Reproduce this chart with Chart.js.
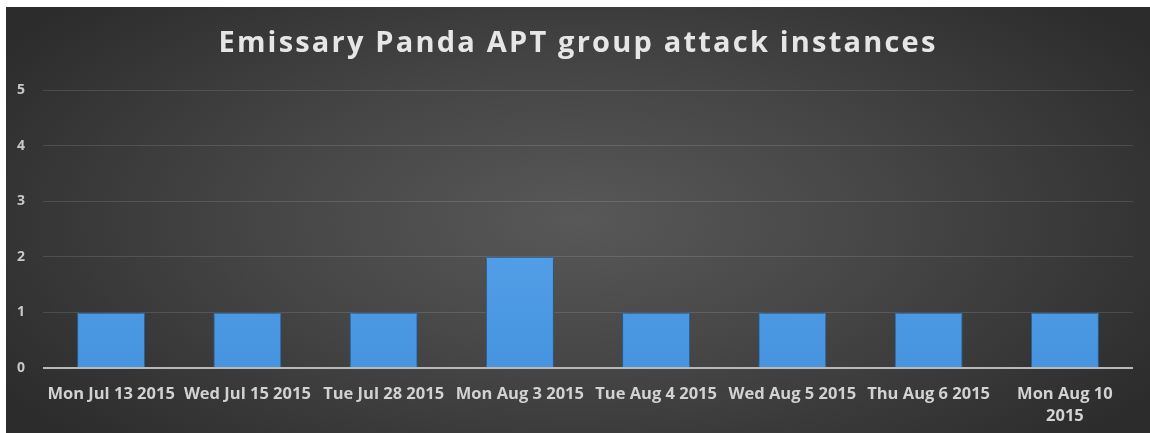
<!DOCTYPE html>
<html>
<head>
<meta charset="utf-8">
<script src="https://cdn.jsdelivr.net/npm/chart.js@4"></script>
<style>
  html, body { margin: 0; padding: 0; background: #fff; }
  #wrap {
    position: absolute;
    left: 6px;
    top: 7px;
    width: 1144px;
    height: 426px;
    background: radial-gradient(ellipse 60% 75% at 50% 50%, #585858 0%, #464646 45%, #2c2c2c 100%);
  }
</style>
</head>
<body>
<div id="wrap"><canvas id="chart" width="1144" height="426"></canvas></div>
<script>
const chartTitle = "Emissary Panda APT group attack instances";
const categories = [
  "Mon Jul 13 2015",
  "Wed Jul 15 2015",
  "Tue Jul 28 2015",
  "Mon Aug 3 2015",
  "Tue Aug 4 2015",
  "Wed Aug 5 2015",
  "Thu Aug 6 2015",
  ["Mon Aug 10", "2015"]
];
const attacks = [1, 1, 1, 2, 1, 1, 1, 1];
const yTicks = [0, 1, 2, 3, 4, 5];

function barGradient(context) {
  const chart = context.chart;
  const area = chart.chartArea;
  if (!area) {
    return "#4f9ce6";
  }
  const g = chart.ctx.createLinearGradient(0, area.top, 0, area.bottom);
  g.addColorStop(0, "#63adf0");
  g.addColorStop(1, "#4693df");
  return g;
}

// title drawn by hand so it can get the wide letter spacing of the original
const spacedTitle = {
  id: "spacedTitle",
  afterDraw(chart) {
    const ctx = chart.ctx;
    ctx.save();
    ctx.font = "bold 29px 'Open Sans'";
    ctx.letterSpacing = "2.2px";
    ctx.fillStyle = "#e6e6e6";
    ctx.textAlign = "center";
    ctx.textBaseline = "alphabetic";
    ctx.fillText(chartTitle, chart.width / 2, 45);
    ctx.restore();
  }
};

// soft dark glow round the bars
const barShadow = {
  id: "barShadow",
  beforeDatasetsDraw(chart) {
    const ctx = chart.ctx;
    ctx.save();
    ctx.shadowColor = "rgba(0,0,0,0.45)";
    ctx.shadowBlur = 6;
  },
  afterDatasetsDraw(chart) {
    chart.ctx.restore();
  }
};

new Chart(document.getElementById("chart"), {
  type: "bar",
  data: {
    labels: categories,
    datasets: [
      {
        label: "Attacks",
        data: attacks,
        backgroundColor: barGradient,
        borderColor: "#2f74b8",
        borderWidth: 1,
        categoryPercentage: 1,
        barPercentage: 0.5
      }
    ]
  },
  options: {
    responsive: false,
    animation: false,
    layout: {
      padding: { left: 0, right: 17, top: 83, bottom: 0 }
    },
    scales: {
      y: {
        min: 0,
        max: 5,
        afterFit: function(scale) {
          scale.width = 37;
        },
        afterBuildTicks: function(scale) {
          scale.ticks = yTicks.map(v => ({ value: v }));
        },
        border: { display: false },
        grid: {
          color: function(ctx) {
            return ctx.tick.value === 0 ? "#b8b8b8" : "rgba(255,255,255,0.12)";
          },
          lineWidth: function(ctx) {
            return ctx.tick.value === 0 ? 2 : 1;
          },
          drawTicks: false
        },
        ticks: {
          padding: 18,
          color: "#c8c8c8",
          font: { family: "Open Sans", size: 14, weight: "bold" }
        }
      },
      x: {
        afterFit: function(scale) {
          scale.height = 65;
        },
        border: { display: false },
        grid: { display: false, drawTicks: false },
        ticks: {
          autoSkip: false,
          maxRotation: 0,
          minRotation: 0,
          padding: 16,
          color: "#d2d2d2",
          font: { family: "Open Sans", size: 16.5, weight: "bold", lineHeight: 1.3 }
        }
      }
    },
    plugins: {
      legend: { display: false },
      tooltip: { enabled: false },
      title: { display: false }
    }
  },
  plugins: [spacedTitle, barShadow]
});
</script>
</body>
</html>
